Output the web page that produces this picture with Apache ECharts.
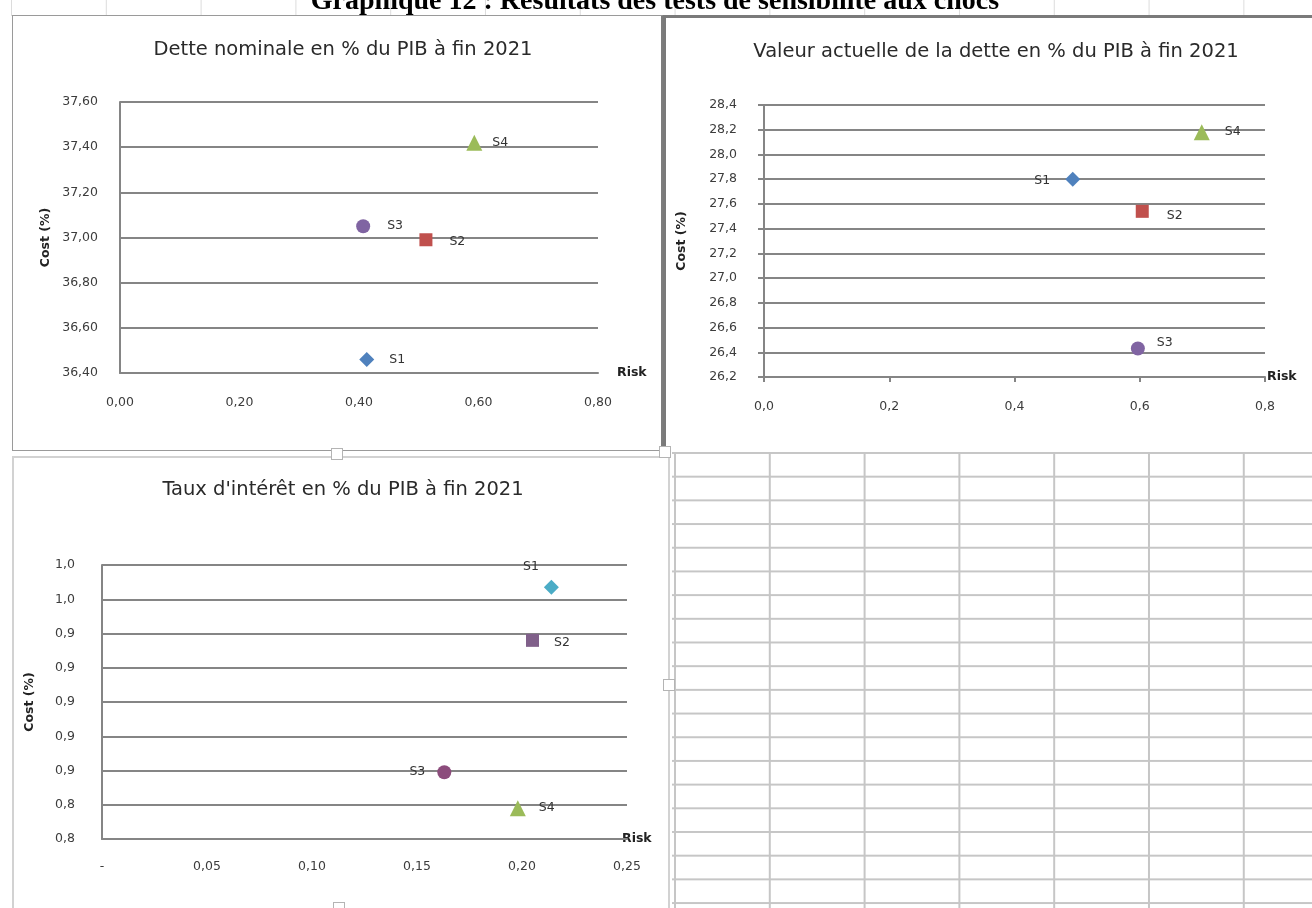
<!DOCTYPE html>
<html lang="fr">
<head>
<meta charset="utf-8">
<title>Graphique 12 : Résultats des tests de sensibilité aux chocs</title>
<script src="https://cdn.jsdelivr.net/npm/echarts@6/dist/echarts.min.js"></script>
<style>
  html, body { margin: 0; padding: 0; }
  body { width: 1312px; height: 908px; overflow: hidden; position: relative; background: #fff; }
  /* worksheet cell grid visible around the charts */
  .cells {
    position: absolute;
    background-image:
      linear-gradient(to right, #c6c6c6 2px, transparent 2px),
      linear-gradient(to bottom, #c6c6c6 2px, transparent 2px);
    background-size: 94.8px 23.7px;
  }
  #cellsBR { left: 672px; top: 452px; width: 640px; height: 456px; background-position: 2px 0px; }
  .cols {
    position: absolute;
    background-image: linear-gradient(to right, #dcdcdc 1px, transparent 1px);
    background-size: 94.8px 100%;
  }
  #colsTop { left: 0; top: 0; width: 1312px; height: 16px; background-position: 11px 0; }
  .frame { position: absolute; background: #fff; box-sizing: border-box; }
  #f1 { left: 12px; top: 15px; width: 652px; height: 436px; border: 1px solid #9a9a9a; border-right: 3px solid #7d7d7d; }
  #f2 { left: 663px; top: 15px; width: 660px; height: 437px; border-top: 3px solid #7a7a7a; border-left: 3px solid #7a7a7a; }
  #f3 { left: 12px; top: 456px; width: 658px; height: 470px; border: 2px solid #d2d2d2; }
  .handle { position: absolute; width: 12px; height: 12px; background: #fff; border: 1px solid #b4b4b4; box-sizing: border-box; }
  #chart { position: absolute; left: 0; top: 0; width: 1312px; height: 908px; }
</style>
</head>
<body>
<div class="cells" id="cellsBR"></div>
<div class="cols" id="colsTop"></div>
<div class="frame" id="f1"></div>
<div class="frame" id="f2"></div>
<div class="frame" id="f3"></div>
<div class="handle" style="left:331px;top:448px"></div>
<div class="handle" style="left:659px;top:446px"></div>
<div class="handle" style="left:663px;top:679px"></div>
<div class="handle" style="left:333px;top:902px"></div>
<div id="chart"></div>
<script>
// Scenario names
const scenarios = ['S1', 'S2', 'S3', 'S4'];

// Dette nominale en % du PIB à fin 2021
const nominalRisk = [0.413, 0.512, 0.407, 0.593];
const nominalCost = [36.46, 36.99, 37.05, 37.42];

// Valeur actuelle de la dette en % du PIB à fin 2021
const presentRisk = [0.493, 0.604, 0.597, 0.699];
const presentCost = [27.80, 27.54, 26.43, 28.18];

// Taux d'intérêt en % du PIB à fin 2021
const rateRisk = [0.214, 0.205, 0.163, 0.198];
const rateCost = [0.967, 0.936, 0.859, 0.838];

// Panel titles and axis names
const panelTitles = [
  'Dette nominale en % du PIB à fin 2021',
  'Valeur actuelle de la dette en % du PIB à fin 2021',
  "Taux d'intérêt en % du PIB à fin 2021"
];
const mainTitle = 'Graphique 12 : Résultats des tests de sensibilité aux chocs';
const costName = 'Cost (%)';
const riskName = 'Risk';

const FONT = '"DejaVu Sans", sans-serif';
const GRID_COLOR = '#858585';
const symbols = ['diamond', 'rect', 'circle', 'triangle'];
const symbolSizes = [15, 13, 14, 16];
const paletteA = ['#4F81BD', '#C0504D', '#8064A2', '#9BBB59'];
const paletteB = ['#4BACC6', '#80608A', '#8C4C7C', '#9BBB59'];

const comma = (v, d) => Number(v).toFixed(d).replace('.', ',');

const labelStyle = { color: '#3c3c3c', fontFamily: FONT, fontSize: 12.5 };

function valueAxis(gridIndex, opts) {
  return Object.assign({
    type: 'value',
    gridIndex: gridIndex,
    axisLine: { show: true, onZero: false, lineStyle: { color: GRID_COLOR, width: 2 } },
    axisTick: { show: false },
    splitLine: { show: false },
    nameTextStyle: { color: '#222', fontFamily: FONT, fontWeight: 'bold', fontSize: 12.5 }
  }, opts);
}

function scatterSeries(panel, risk, cost, palette, labelCfg) {
  return scenarios.map((name, i) => ({
    type: 'scatter',
    name: name,
    xAxisIndex: panel,
    yAxisIndex: panel,
    symbol: symbols[i],
    symbolSize: symbolSizes[i],
    itemStyle: { color: palette[i], opacity: 1 },
    data: [[risk[i], cost[i]]],
    label: Object.assign({
      show: true,
      formatter: name,
      color: '#333',
      fontFamily: FONT,
      fontSize: 12.5
    }, labelCfg[i])
  }));
}

const chart = echarts.init(document.getElementById('chart'), null, { renderer: 'canvas' });

const titleStyle = { color: '#2a2a2a', fontFamily: FONT, fontSize: 19.5, fontWeight: 'normal' };

const option = {
  animation: false,
  backgroundColor: 'transparent',
  title: [
    { text: panelTitles[0], left: 338, top: 35, textAlign: 'center', textStyle: titleStyle },
    { text: panelTitles[1], left: 991, top: 37, textAlign: 'center', textStyle: titleStyle },
    { text: panelTitles[2], left: 338, top: 475, textAlign: 'center', textStyle: titleStyle }
  ],
  graphic: [{
    type: 'text',
    style: {
      text: mainTitle,
      x: 655, y: 16,
      align: 'center', verticalAlign: 'bottom',
      font: 'bold 28px "Liberation Serif", serif',
      fill: '#000'
    }
  }],
  grid: [
    { left: 120, top: 102, width: 478, height: 271 },
    { left: 764, top: 105, width: 501, height: 272 },
    { left: 102, top: 565, width: 525, height: 274 }
  ],
  xAxis: [
    valueAxis(0, {
      min: 0, max: 0.8, interval: 0.2,
      name: riskName, nameLocation: 'end', nameGap: 19,
      axisLabel: Object.assign({ margin: 23, formatter: v => comma(v, 2) }, labelStyle)
    }),
    valueAxis(1, {
      min: 0, max: 0.8, interval: 0.2,
      name: riskName, nameLocation: 'end', nameGap: 2,
      axisTick: { show: true, length: 5, lineStyle: { color: GRID_COLOR, width: 2 } },
      axisLabel: Object.assign({ margin: 23, formatter: v => comma(v, 1) }, labelStyle)
    }),
    valueAxis(2, {
      min: 0, max: 0.25, interval: 0.05,
      name: riskName, nameLocation: 'end', nameGap: -5,
      nameTextStyle: { color: '#222', fontFamily: FONT, fontWeight: 'bold', fontSize: 12.5, padding: [0, 0, 8, 0] },
      axisLabel: Object.assign({ margin: 21, formatter: v => (v === 0 ? '-' : comma(v, 2)) }, labelStyle)
    })
  ],
  yAxis: [
    valueAxis(0, {
      min: 36.4, max: 37.6, interval: 0.2,
      name: costName, nameLocation: 'middle', nameGap: 68,
      splitLine: { show: true, lineStyle: { color: GRID_COLOR, width: 2 } },
      axisLabel: Object.assign({ margin: 22, formatter: v => comma(v, 2) }, labelStyle)
    }),
    valueAxis(1, {
      min: 26.2, max: 28.4, interval: 0.2,
      name: costName, nameLocation: 'middle', nameGap: 76,
      axisTick: { show: true, length: 6, lineStyle: { color: GRID_COLOR, width: 2 } },
      splitLine: { show: true, lineStyle: { color: GRID_COLOR, width: 2 } },
      axisLabel: Object.assign({ margin: 27, formatter: v => comma(v, 1) }, labelStyle)
    }),
    valueAxis(2, {
      min: 0.82, max: 0.98, interval: 0.02,
      name: costName, nameLocation: 'middle', nameGap: 66,
      splitLine: { show: true, lineStyle: { color: GRID_COLOR, width: 2 } },
      axisLabel: Object.assign({ margin: 27, formatter: v => comma(v, 1) }, labelStyle)
    })
  ],
  series: [].concat(
    scatterSeries(0, nominalRisk, nominalCost, paletteA, [
      { position: 'right', distance: 15 },
      { position: 'right', distance: 17, offset: [0, 2] },
      { position: 'right', distance: 17 },
      { position: 'right', distance: 10 }
    ]),
    scatterSeries(1, presentRisk, presentCost, paletteA, [
      { position: 'left', distance: 15, offset: [0, 2] },
      { position: 'right', distance: 18, offset: [0, 4] },
      { position: 'right', distance: 12, offset: [0, -6] },
      { position: 'right', distance: 15 }
    ]),
    scatterSeries(2, rateRisk, rateCost, paletteB, [
      { position: 'left', distance: 5, offset: [0, -21] },
      { position: 'right', distance: 15, offset: [0, 2] },
      { position: 'left', distance: 12 },
      { position: 'right', distance: 13 }
    ])
  )
};

chart.setOption(option);
</script>
</body>
</html>
